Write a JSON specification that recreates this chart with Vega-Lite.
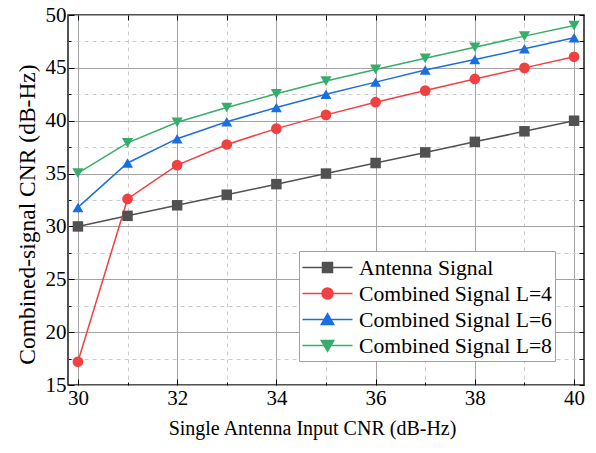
{
  "$schema": "https://vega.github.io/schema/vega-lite/v6.json",
  "width": 516,
  "height": 370,
  "autosize": {"type": "none"},
  "padding": {"left": 68, "top": 15, "right": 12, "bottom": 68},
  "background": "white",
  "config": {
    "font": "Liberation Serif",
    "view": {"stroke": "#1a1a1a", "strokeWidth": 1.5},
    "axis": {"labelFont": "Liberation Serif", "titleFont": "Liberation Serif"},
    "legend": {"symbolFillColor": "#000000", "labelFont": "Liberation Serif"},
    "style": {
      "guide-label": {"font": "Liberation Serif"},
      "guide-title": {"font": "Liberation Serif"}
    }
  },
  "data": {
    "values": [
      {"input": 30, "cnr": 30, "series": "Antenna Signal"},
      {"input": 31, "cnr": 31, "series": "Antenna Signal"},
      {"input": 32, "cnr": 32, "series": "Antenna Signal"},
      {"input": 33, "cnr": 33, "series": "Antenna Signal"},
      {"input": 34, "cnr": 34, "series": "Antenna Signal"},
      {"input": 35, "cnr": 35, "series": "Antenna Signal"},
      {"input": 36, "cnr": 36, "series": "Antenna Signal"},
      {"input": 37, "cnr": 37, "series": "Antenna Signal"},
      {"input": 38, "cnr": 38, "series": "Antenna Signal"},
      {"input": 39, "cnr": 39, "series": "Antenna Signal"},
      {"input": 40, "cnr": 40, "series": "Antenna Signal"},
      {"input": 30, "cnr": 17.2, "series": "Combined Signal L=4"},
      {"input": 31, "cnr": 32.6, "series": "Combined Signal L=4"},
      {"input": 32, "cnr": 35.8, "series": "Combined Signal L=4"},
      {"input": 33, "cnr": 37.75, "series": "Combined Signal L=4"},
      {"input": 34, "cnr": 39.25, "series": "Combined Signal L=4"},
      {"input": 35, "cnr": 40.55, "series": "Combined Signal L=4"},
      {"input": 36, "cnr": 41.75, "series": "Combined Signal L=4"},
      {"input": 37, "cnr": 42.85, "series": "Combined Signal L=4"},
      {"input": 38, "cnr": 43.95, "series": "Combined Signal L=4"},
      {"input": 39, "cnr": 45.0, "series": "Combined Signal L=4"},
      {"input": 40, "cnr": 46.05, "series": "Combined Signal L=4"},
      {"input": 30, "cnr": 31.8, "series": "Combined Signal L=6"},
      {"input": 31, "cnr": 36.0, "series": "Combined Signal L=6"},
      {"input": 32, "cnr": 38.3, "series": "Combined Signal L=6"},
      {"input": 33, "cnr": 39.9, "series": "Combined Signal L=6"},
      {"input": 34, "cnr": 41.25, "series": "Combined Signal L=6"},
      {"input": 35, "cnr": 42.5, "series": "Combined Signal L=6"},
      {"input": 36, "cnr": 43.65, "series": "Combined Signal L=6"},
      {"input": 37, "cnr": 44.8, "series": "Combined Signal L=6"},
      {"input": 38, "cnr": 45.8, "series": "Combined Signal L=6"},
      {"input": 39, "cnr": 46.8, "series": "Combined Signal L=6"},
      {"input": 40, "cnr": 47.85, "series": "Combined Signal L=6"},
      {"input": 30, "cnr": 35.05, "series": "Combined Signal L=8"},
      {"input": 31, "cnr": 37.9, "series": "Combined Signal L=8"},
      {"input": 32, "cnr": 39.85, "series": "Combined Signal L=8"},
      {"input": 33, "cnr": 41.25, "series": "Combined Signal L=8"},
      {"input": 34, "cnr": 42.55, "series": "Combined Signal L=8"},
      {"input": 35, "cnr": 43.75, "series": "Combined Signal L=8"},
      {"input": 36, "cnr": 44.85, "series": "Combined Signal L=8"},
      {"input": 37, "cnr": 45.9, "series": "Combined Signal L=8"},
      {"input": 38, "cnr": 46.95, "series": "Combined Signal L=8"},
      {"input": 39, "cnr": 48.0, "series": "Combined Signal L=8"},
      {"input": 40, "cnr": 49.0, "series": "Combined Signal L=8"}
    ]
  },
  "layer": [
    {
      "mark": {"type": "line", "strokeWidth": 1.5},
      "encoding": {
        "x": {
          "field": "input", "type": "quantitative",
          "scale": {"domain": [29.8, 40.2], "nice": false, "zero": false},
          "axis": {
            "orient": "bottom", "values": [30, 32, 34, 36, 38, 40],
            "grid": true, "gridColor": "#a3a3a3", "gridWidth": 1,
            "domain": false, "ticks": true, "tickSize": -6, "tickColor": "#000000", "tickWidth": 1,
            "labelFont": "Liberation Serif", "labelFontSize": 21, "labelColor": "#000000",
            "labelPadding": 8, "labelFlush": false, "labelOverlap": false,
            "title": "Single Antenna Input CNR (dB-Hz)", "titleFont": "Liberation Serif",
            "titleFontSize": 20, "titleFontWeight": "normal", "titleColor": "#000000", "titlePadding": 10,
            "titleX": 244
          }
        },
        "y": {
          "field": "cnr", "type": "quantitative",
          "scale": {"domain": [15, 50], "nice": false, "zero": false},
          "axis": {
            "orient": "left", "values": [15, 20, 25, 30, 35, 40, 45, 50],
            "grid": true, "gridColor": "#a3a3a3", "gridWidth": 1,
            "domain": false, "ticks": true, "tickSize": -6, "tickColor": "#000000", "tickWidth": 1,
            "labelFont": "Liberation Serif", "labelFontSize": 21, "labelColor": "#000000",
            "labelPadding": 8, "labelFlush": false, "labelOverlap": false,
            "title": "Combined-signal CNR (dB-Hz)", "titleFont": "Liberation Serif",
            "titleFontSize": 23.5, "titleFontWeight": "normal", "titleColor": "#000000", "titlePadding": 6,
            "titleY": 199
          }
        },
        "color": {
          "field": "series", "type": "nominal",
          "scale": {
            "domain": ["Antenna Signal", "Combined Signal L=4", "Combined Signal L=6", "Combined Signal L=8"],
            "range": ["#515151", "#F14040", "#1A6FDF", "#37AD6B"]
          },
          "legend": null
        }
      }
    },
    {
      "mark": {"type": "point", "filled": true, "opacity": 1},
      "encoding": {
        "x": {
          "field": "input", "type": "quantitative",
          "scale": {"domain": [29.8, 40.2], "nice": false, "zero": false},
          "axis": {
            "orient": "bottom", "values": [31, 33, 35, 37, 39],
            "grid": true, "gridColor": "#cccccc", "gridDash": [4, 4], "gridWidth": 1,
            "domain": false, "ticks": true, "tickSize": -3, "tickColor": "#000000",
            "labels": false, "title": null
          }
        },
        "y": {
          "field": "cnr", "type": "quantitative",
          "scale": {"domain": [15, 50], "nice": false, "zero": false},
          "axis": {
            "orient": "left", "values": [17.5, 22.5, 27.5, 32.5, 37.5, 42.5, 47.5],
            "grid": true, "gridColor": "#cccccc", "gridDash": [4, 4], "gridWidth": 1,
            "domain": false, "ticks": true, "tickSize": -3, "tickColor": "#000000",
            "labels": false, "title": null
          }
        },
        "color": {
          "field": "series", "type": "nominal",
          "scale": {
            "domain": ["Antenna Signal", "Combined Signal L=4", "Combined Signal L=6", "Combined Signal L=8"],
            "range": ["#515151", "#F14040", "#1A6FDF", "#37AD6B"]
          },
          "legend": null
        },
        "shape": {
          "field": "series", "type": "nominal",
          "scale": {
            "domain": ["Antenna Signal", "Combined Signal L=4", "Combined Signal L=6", "Combined Signal L=8"],
            "range": ["square", "circle", "triangle-up", "triangle-down"]
          },
          "legend": null
        },
        "size": {
          "field": "series", "type": "nominal",
          "scale": {
            "domain": ["Antenna Signal", "Combined Signal L=4", "Combined Signal L=6", "Combined Signal L=8"],
            "range": [110, 125, 175, 175]
          },
          "legend": null
        }
      }
    },
    {
      "mark": {"type": "point", "filled": true, "opacity": 0},
      "encoding": {
        "x": {
          "field": "input", "type": "quantitative",
          "scale": {"domain": [29.8, 40.2], "nice": false, "zero": false},
          "axis": {
            "orient": "top", "values": [30, 31, 32, 33, 34, 35, 36, 37, 38, 39, 40],
            "grid": false, "domain": false, "ticks": true, "tickSize": -5, "tickColor": "#000000",
            "labels": false, "title": null
          }
        },
        "y": {
          "field": "cnr", "type": "quantitative",
          "scale": {"domain": [15, 50], "nice": false, "zero": false},
          "axis": {
            "orient": "right", "values": [15, 17.5, 20, 22.5, 25, 27.5, 30, 32.5, 35, 37.5, 40, 42.5, 45, 47.5, 50],
            "grid": false, "domain": false, "ticks": true, "tickSize": -5, "tickColor": "#000000",
            "labels": false, "title": null
          }
        },
        "fill": {
          "field": "series", "type": "nominal",
          "scale": {
            "domain": ["Antenna Signal", "Combined Signal L=4", "Combined Signal L=6", "Combined Signal L=8"],
            "range": ["#515151", "#F14040", "#1A6FDF", "#37AD6B"]
          },
          "legend": {
            "title": null, "orient": "none", "legendX": 231, "legendY": 236,
            "fillColor": "#ffffff", "strokeColor": "#a0a0a0", "padding": 3,
            "rowPadding": 0, "symbolSize": 625, "symbolStrokeWidth": 1.5, "symbolOpacity": 1,
            "symbolOffset": 12, "labelOffset": 18,
            "labelFont": "Liberation Serif", "labelFontSize": 21.7, "labelColor": "#000000", "labelLimit": 400
          }
        },
        "stroke": {
          "field": "series", "type": "nominal",
          "scale": {
            "domain": ["Antenna Signal", "Combined Signal L=4", "Combined Signal L=6", "Combined Signal L=8"],
            "range": ["#515151", "#F14040", "#1A6FDF", "#37AD6B"]
          }
        },
        "shape": {
          "field": "series", "type": "nominal",
          "scale": {
            "domain": ["Antenna Signal", "Combined Signal L=4", "Combined Signal L=6", "Combined Signal L=8"],
            "range": [
              "M-2,0H2M-0.4,-0.4H0.4V0.4H-0.4Z",
              "M-2,0H2M0.44,0A0.44,0.44,0,1,1,-0.44,0A0.44,0.44,0,1,1,0.44,0Z",
              "M-2,0H2M0,-0.46L0.5,0.4H-0.5Z",
              "M-2,0H2M0,0.46L0.5,-0.4H-0.5Z"
            ]
          }
        }
      }
    }
  ],
  "resolve": {
    "scale": {"shape": "independent", "fill": "independent", "stroke": "independent"},
    "axis": {"x": "independent", "y": "independent"}
  }
}
